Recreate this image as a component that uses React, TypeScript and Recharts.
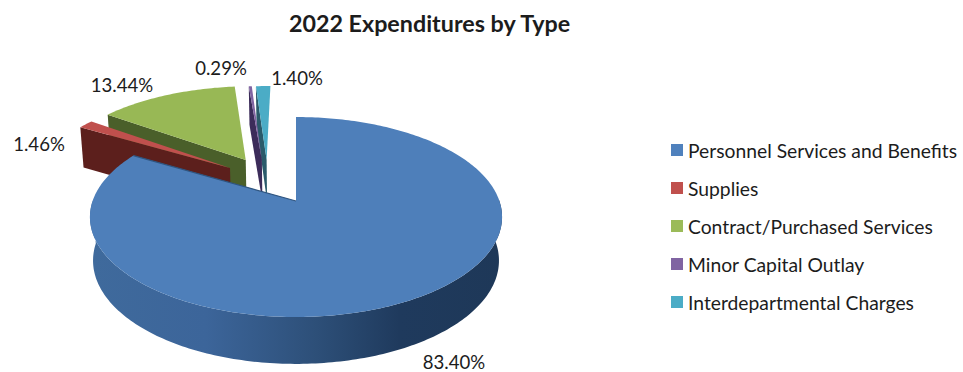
import { Legend, Pie, PieChart } from "recharts";

const categories = [
  "Personnel Services and Benefits",
  "Supplies",
  "Contract/Purchased Services",
  "Minor Capital Outlay",
  "Interdepartmental Charges",
];
const shares = [83.4, 1.46, 13.44, 0.29, 1.4];

const topColors = ["#4e7fba", "#c0504d", "#98b855", "#8064a2", "#4bacc6"];
const legendColors = ["#4f81bd", "#c0504d", "#9bbb59", "#8064a2", "#4bacc6"];
const wallColors = ["#2f5580", "#5c1f1c", "#4a5f2a", "#3c2c5a", "#2a5a6a"];

// how far each slice is pulled out, in units of the pie radius (x, away from viewer)
const explode = [
  [0, 0],
  [-0.343, 0.358],
  [-0.265, 0.452],
  [-0.18, 0.455],
  [-0.155, 0.455],
];
const labelSpots = [
  [454, 362],
  [39, 144],
  [122, 85],
  [221, 68],
  [297, 78],
];

const FONT = "Lato, Carlito, sans-serif";
const TEXT = "#1c1c1c";
const PERSPECTIVE = 0.16;
const SQUASH = 0.479;
const DEPTH = 43;

// the drawing order has to be back to front, so the table runs backwards
const pieData = categories.map((name, i) => ({ name, value: shares[i] })).reverse();

const Slice3D = (props: any) => {
  const { cx, cy, outerRadius: R, startAngle, endAngle } = props;
  const name = props.name ?? props.payload?.name;
  const idx = categories.indexOf(name);
  const [ou, ov] = explode[idx];
  const lo = Math.min(startAngle, endAngle);
  const hi = Math.max(startAngle, endAngle);

  const top = (u: number, v: number) => {
    const w = 1 + PERSPECTIVE * (v + ov);
    return [cx + (R * (u + ou)) / w, cy - (R * SQUASH * (v + ov)) / w];
  };
  const bottom = (u: number, v: number) => {
    const w = 1 + PERSPECTIVE * (v + ov);
    const [x, y] = top(u, v);
    return [cx + (x - cx) * 0.985, y + DEPTH / Math.sqrt(w)];
  };
  const rim = (deg: number) => {
    const a = (deg * Math.PI) / 180;
    return [Math.cos(a), Math.sin(a)];
  };
  const toPath = (pts: number[][]) =>
    "M" + pts.map((p) => `${p[0].toFixed(2)},${p[1].toFixed(2)}`).join("L") + "Z";

  const angles: number[] = [];
  for (let a = lo; a < hi; a += 1) angles.push(a);
  angles.push(hi);

  const face = [top(0, 0), ...angles.map((a) => top(rim(a)[0], rim(a)[1]))];
  const [eu, ev] = rim(hi);
  const cutWall = [top(0, 0), top(eu, ev), bottom(eu, ev), bottom(0, 0)];

  // outer wall, only the part that faces the viewer
  const front = angles.filter((a) => Math.sin((a * Math.PI) / 180) <= 0.02);
  const outerWall = [
    ...front.map((a) => top(rim(a)[0], rim(a)[1])),
    ...[...front].reverse().map((a) => bottom(rim(a)[0], rim(a)[1])),
  ];
  const notch = top(rim(lo)[0], rim(lo)[1]);
  const apex = top(0, 0);

  return (
    <g>
      {idx === 0 && (
        <defs>
          <linearGradient id="blueWall" gradientUnits="userSpaceOnUse" x1={90} x2={503} y1={0} y2={0}>
            <stop offset="0" stopColor="#3f6a9c" />
            <stop offset="0.28" stopColor="#3c659a" />
            <stop offset="0.55" stopColor="#2d4f78" />
            <stop offset="0.75" stopColor="#1f3a5d" />
            <stop offset="1" stopColor="#1e3858" />
          </linearGradient>
        </defs>
      )}
      {idx !== 0 && <path d={toPath(cutWall)} fill={wallColors[idx]} />}
      {front.length > 1 && <path d={toPath(outerWall)} fill={idx === 0 ? "url(#blueWall)" : wallColors[idx]} />}
      <path d={toPath(face)} fill={topColors[idx]} />
      {idx === 0 && (
        <line x1={apex[0]} y1={apex[1]} x2={notch[0]} y2={notch[1]} stroke="#2f5580" strokeWidth={1.2} />
      )}
    </g>
  );
};

const renderLabel = (props: any) => {
  const idx = categories.indexOf(props.name);
  const [x, y] = labelSpots[idx];
  return (
    <text x={x} y={y} textAnchor="middle" dominantBaseline="central" fontFamily={FONT} fontSize={18.6} fill={TEXT}>
      {shares[idx].toFixed(2)}%
    </text>
  );
};

const LegendList = () => (
  <div style={{ fontFamily: FONT, fontSize: 19.3, color: TEXT }}>
    {categories.map((name, i) => (
      <div key={name} style={{ height: 38, display: "flex", alignItems: "center", whiteSpace: "nowrap" }}>
        <span style={{ width: 12, height: 12, background: legendColors[i], marginRight: 5, flex: "none" }} />
        {name}
      </div>
    ))}
  </div>
);

export default function App() {
  return (
    <div style={{ position: "absolute", left: 0, top: 0, width: 963, height: 372, background: "#fff" }}>
      <PieChart width={963} height={372} margin={{ top: 0, right: 0, bottom: 0, left: 0 }}>
        <text x={429.5} y={23} textAnchor="middle" dominantBaseline="central" fontFamily={FONT} fontSize={23.3} fontWeight={700} fill={TEXT}>
          2022 Expenditures by Type
        </text>
        <Pie
          data={pieData}
          dataKey="value"
          nameKey="name"
          cx={296}
          cy={201}
          outerRadius={203.4}
          startAngle={90}
          endAngle={450}
          stroke="none"
          shape={Slice3D}
          label={renderLabel}
          labelLine={false}
          isAnimationActive={false}
        />
        <Legend
          layout="vertical"
          align="right"
          verticalAlign="top"
          content={LegendList}
          wrapperStyle={{ left: 671, top: 131, width: 292 }}
        />
      </PieChart>
    </div>
  );
}
